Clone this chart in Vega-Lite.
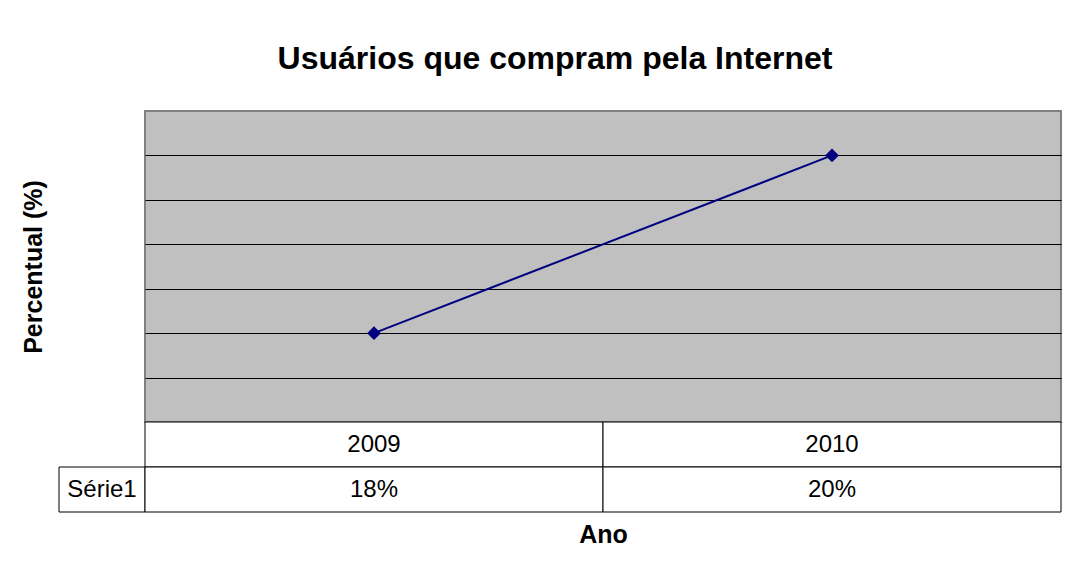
{
  "$schema": "https://vega.github.io/schema/vega-lite/v6.json",
  "background": "white",
  "padding": {"left": 20, "top": 42, "right": 5, "bottom": 5},
  "data": {"values": [{"Ano": "2009", "Valor": 0.18}, {"Ano": "2010", "Valor": 0.20}]},
  "columns": 2,
  "spacing": 0,
  "bounds": "flush",
  "config": {"font": "Liberation Sans", "view": {"stroke": null}},
  "concat": [
    {
      "width": 86, "height": 311,
      "data": {"values": []},
      "mark": "point"
    },
    {
      "width": 916, "height": 311,
      "title": {"text": "Usuários que compram pela Internet", "fontSize": 32, "font": "Liberation Sans", "fontWeight": "bold", "color": "black", "anchor": "middle", "dx": -48, "offset": 35},
      "view": {"fill": "#C0C0C0", "stroke": "#808080", "strokeWidth": 2},
      "encoding": {
        "x": {"field": "Ano", "type": "ordinal", "scale": {"type": "point", "padding": 0.5}, "axis": null},
        "y": {"field": "Valor", "type": "quantitative", "scale": {"domain": [0.17, 0.205], "zero": false, "nice": false},
          "axis": {"title": "Percentual (%)", "titleFontSize": 25, "titleFontWeight": "bold", "titleColor": "black", "titlePadding": 99,
            "labels": false, "ticks": false, "domain": false, "grid": true, "gridColor": "black", "gridOpacity": 1, "gridWidth": 1,
            "values": [0.175, 0.18, 0.185, 0.19, 0.195, 0.2]}}
      },
      "mark": {"type": "line", "color": "#000080", "strokeWidth": 2, "point": {"shape": "diamond", "size": 190, "filled": true, "fill": "#000080", "color": "#000080", "opacity": 1}}
    },
    {
      "width": 86, "height": 90,
      "data": {"values": [{"Serie": "Série1"}]},
      "encoding": {
        "y": {"field": "Serie", "type": "nominal", "scale": {"domain": ["cat", "Série1"], "paddingInner": 0, "paddingOuter": 0}, "axis": null}
      },
      "layer": [
        {"mark": {"type": "rect", "fill": "white", "stroke": "black", "strokeWidth": 1}},
        {"mark": {"type": "text", "fontSize": 24, "color": "black"}, "encoding": {"text": {"field": "Serie"}}}
      ]
    },
    {
      "width": 916, "height": 90,
      "encoding": {
        "x": {"field": "Ano", "type": "nominal", "scale": {"type": "band", "paddingInner": 0, "paddingOuter": 0},
          "axis": {"title": "Ano", "orient": "bottom", "labels": false, "ticks": false, "domain": false, "grid": false,
            "titleFontSize": 25, "titleFontWeight": "bold", "titleColor": "black", "titlePadding": 10}}
      },
      "layer": [
        {"mark": {"type": "rect", "fill": "white", "stroke": "black", "strokeWidth": 1},
          "encoding": {"y": {"datum": "cat", "type": "nominal", "scale": {"domain": ["cat", "Série1"], "paddingInner": 0, "paddingOuter": 0}, "axis": null}}},
        {"mark": {"type": "rect", "fill": "white", "stroke": "black", "strokeWidth": 1},
          "encoding": {"y": {"datum": "Série1", "type": "nominal"}}},
        {"mark": {"type": "text", "fontSize": 24, "color": "black"},
          "encoding": {"y": {"datum": "cat", "type": "nominal"}, "text": {"field": "Ano"}}},
        {"mark": {"type": "text", "fontSize": 24, "color": "black"},
          "encoding": {"y": {"datum": "Série1", "type": "nominal"}, "text": {"field": "Valor", "format": ".0%"}}}
      ]
    }
  ]
}
